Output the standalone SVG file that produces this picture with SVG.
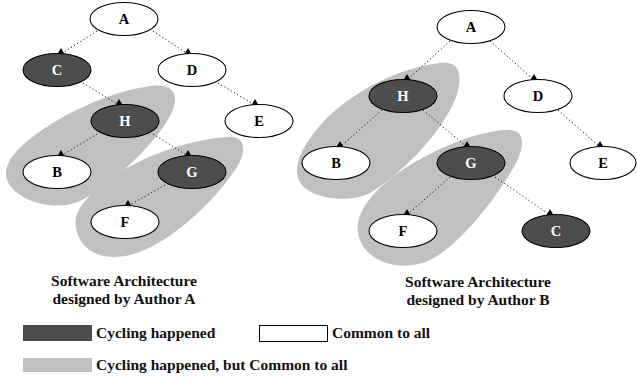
<svg xmlns="http://www.w3.org/2000/svg" width="637" height="378" viewBox="0 0 637 378">
<style>
.blob{fill:#c0c0c0;stroke:none}
.n ellipse{stroke:#000;stroke-width:1.1}
.w ellipse{fill:#fff}
.d ellipse{fill:#4d4d4d}
.n text{font-weight:bold;font-size:14.5px;text-anchor:middle}
.w text{fill:#000}
.d text{fill:#fff}
.e line{stroke:#222;stroke-width:1;stroke-dasharray:1.3,2.4;marker-end:url(#tri)}
.t{font-weight:bold;font-size:15.5px;fill:#111}
.c{text-anchor:middle}
</style>
<defs>
<marker id="tri" markerUnits="userSpaceOnUse" markerWidth="8" markerHeight="8" viewBox="0 0 8 8" refX="4" refY="7.5" orient="0">
<path d="M0.5,7.5 L4,1.5 L7.5,7.5 Z" fill="#000"/>
</marker>
</defs>
<g font-family="'Liberation Serif', 'DejaVu Serif', 'Times New Roman', serif">
<g id="groups">
<path class="blob" d="M152,86 C174,83 181,96 170,116 C154,146 110,186 80,201 C58,211 22,204 9,184 C-1,167 15,148 45,128 C80,105 122,89 152,86 Z"/>
<path class="blob" d="M226,137 C246,134 248,152 235,170 C215,200 170,245 130,255 C100,262 80,250 76,228 C72,210 90,192 120,172 C160,148 201,139 226,137 Z"/>
<path class="blob" d="M440,63 C462,60 463,78 455,100 C440,135 400,175 370,193 C350,203 315,200 302,185 C290,170 300,145 330,115 C360,88 400,68 440,63 Z"/>
<path class="blob" d="M505,130 C525,128 526,145 515,165 C495,200 460,245 430,260 C405,272 370,265 360,240 C352,220 365,198 395,175 C430,150 475,132 505,130 Z"/>
</g>
<g id="connectors" class="e">
<line x1="97" y1="31" x2="61" y2="54"/>
<line x1="153" y1="31" x2="188" y2="54"/>
<line x1="83" y1="83" x2="119" y2="105"/>
<line x1="218" y1="83" x2="255" y2="105"/>
<line x1="97" y1="134" x2="61" y2="156"/>
<line x1="153" y1="134" x2="188" y2="156"/>
<line x1="165" y1="185" x2="128" y2="206"/>
<line x1="450" y1="41" x2="407" y2="80"/>
<line x1="490" y1="41" x2="534" y2="80"/>
<line x1="382" y1="110" x2="340" y2="147"/>
<line x1="423" y1="110" x2="467" y2="147"/>
<line x1="558" y1="110" x2="600" y2="147"/>
<line x1="450" y1="177" x2="407" y2="215"/>
<line x1="495" y1="177" x2="550" y2="215"/>
</g>
<g id="L_A" class="n w"><ellipse cx="124" cy="19" rx="34" ry="16.5"/><text x="124" y="24">A</text></g>
<g id="L_C" class="n d"><ellipse cx="57" cy="70" rx="34" ry="16.5"/><text x="57" y="75">C</text></g>
<g id="L_D" class="n w"><ellipse cx="192" cy="70" rx="34" ry="16.5"/><text x="192" y="75">D</text></g>
<g id="L_H" class="n d"><ellipse cx="125" cy="121" rx="34" ry="16.5"/><text x="125" y="126">H</text></g>
<g id="L_E" class="n w"><ellipse cx="259" cy="121" rx="34" ry="16.5"/><text x="259" y="126">E</text></g>
<g id="L_B" class="n w"><ellipse cx="57" cy="172" rx="34" ry="16.5"/><text x="57" y="177">B</text></g>
<g id="L_G" class="n d"><ellipse cx="192" cy="172" rx="34" ry="16.5"/><text x="192" y="177">G</text></g>
<g id="L_F" class="n w"><ellipse cx="125" cy="222" rx="34" ry="16.5"/><text x="125" y="227">F</text></g>
<g id="R_A" class="n w"><ellipse cx="471" cy="27" rx="34" ry="16.5"/><text x="471" y="32">A</text></g>
<g id="R_H" class="n d"><ellipse cx="403" cy="96" rx="34" ry="16.5"/><text x="403" y="101">H</text></g>
<g id="R_D" class="n w"><ellipse cx="538" cy="96" rx="34" ry="16.5"/><text x="538" y="101">D</text></g>
<g id="R_B" class="n w"><ellipse cx="336" cy="163" rx="34" ry="16.5"/><text x="336" y="168">B</text></g>
<g id="R_G" class="n d"><ellipse cx="471" cy="163" rx="34" ry="16.5"/><text x="471" y="168">G</text></g>
<g id="R_E" class="n w"><ellipse cx="603" cy="163" rx="33" ry="16.5"/><text x="603" y="168">E</text></g>
<g id="R_F" class="n w"><ellipse cx="403" cy="231" rx="34" ry="16.5"/><text x="403" y="236">F</text></g>
<g id="R_C" class="n d"><ellipse cx="556" cy="231" rx="34" ry="16.5"/><text x="556" y="236">C</text></g>
<g id="captions">
<text class="t c" x="124" y="286">Software Architecture</text>
<text class="t c" x="124" y="304">designed by Author A</text>
<text class="t c" x="478" y="287">Software Architecture</text>
<text class="t c" x="478" y="305">designed by Author B</text>
</g>
<g id="legend">
<rect x="23" y="325" width="69" height="16" fill="#4d4d4d"/>
<text class="t" x="96" y="338">Cycling happened</text>
<rect x="259.5" y="325.5" width="68" height="16" fill="#fff" stroke="#000" stroke-width="1"/>
<text class="t" x="332" y="338">Common to all</text>
<rect x="23" y="358" width="69" height="14" fill="#c0c0c0"/>
<text class="t" x="96" y="370">Cycling happened, but Common to all</text>
</g>
</g>
</svg>
